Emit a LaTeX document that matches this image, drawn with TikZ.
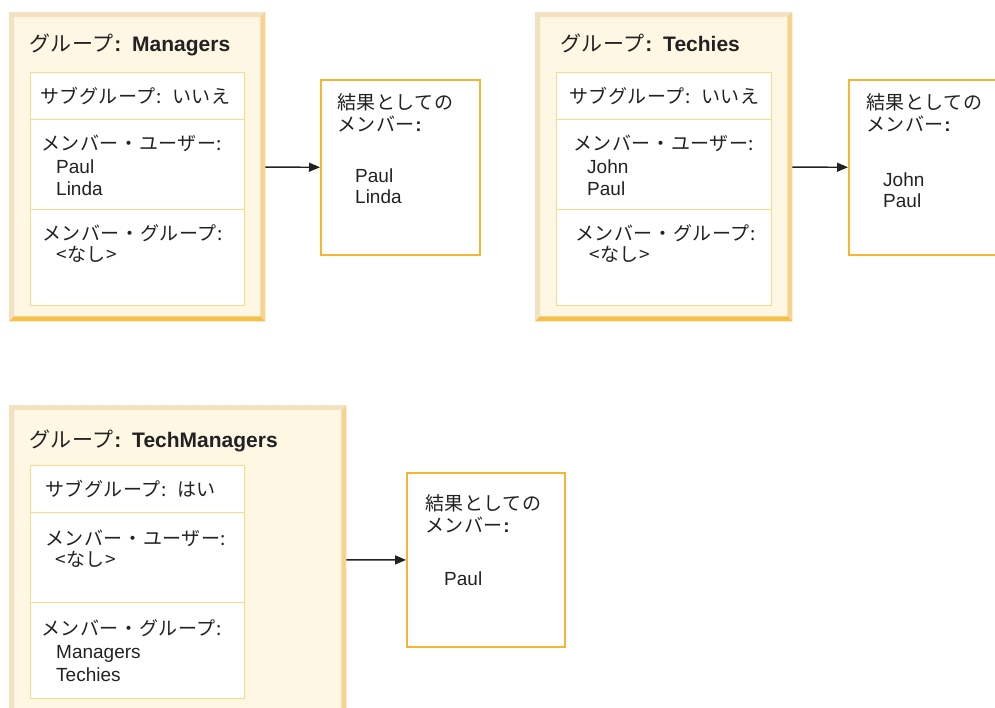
\documentclass[tikz,border=0pt]{standalone}
\usepackage{fontspec}
\setmainfont{Liberation Sans}
\newfontfamily\jp[LetterSpace=3]{Noto Sans CJK JP}
\usetikzlibrary{arrows.meta}
\definecolor{cream}{HTML}{FEF7E3}
\definecolor{bevellight}{HTML}{F3E2C2}
\definecolor{bevelright}{HTML}{F6D38E}
\definecolor{bevelbottom}{HTML}{F5C04C}
\definecolor{cellline}{HTML}{FBD98C}
\definecolor{resline}{HTML}{F7B535}
\definecolor{ink}{HTML}{222222}

\tikzset{
	grpbox/.style={fill=cream, inner sep=0pt, anchor=north west},
	cellbox/.style={draw=cellline, line width=1.4pt, fill=white, inner sep=0pt, anchor=north west},
	resbox/.style={draw=resline, line width=2pt, fill=white, inner sep=0pt, anchor=north west},
	txt/.style={anchor=base west, inner sep=0pt, text=ink, font=\fontsize{19}{22}\selectfont},
	ttl/.style={txt, font=\fontsize{21}{24}\selectfont},
	conn/.style={draw=ink, line width=1.4pt, -{Triangle[length=11pt,width=9pt]}}
}

% bevelled frame round a group box
\newcommand{\bevel}[1]{%
	\fill[bevellight] (#1.south west) -- (#1.north west) -- (#1.north east) -- ([shift={(-5,5)}]#1.north east) -- ([shift={(5,5)}]#1.north west) -- ([shift={(5,-5)}]#1.south west) -- cycle;
	\fill[bevelright] (#1.north east) -- (#1.south east) -- ([shift={(-5,-5)}]#1.south east) -- ([shift={(-5,5)}]#1.north east) -- cycle;
	\fill[bevelbottom] (#1.south west) -- (#1.south east) -- ([shift={(-5,-5)}]#1.south east) -- ([shift={(5,-5)}]#1.south west) -- cycle;}

\begin{document}
\begin{tikzpicture}[x=1pt,y=-1pt]
	\useasboundingbox (0,0) rectangle (995,707);
	\clip (0,0) rectangle (995,707);

	%group Managers
	\node[grpbox, minimum width=256, minimum height=309] (mgr) at (9,12) {};
	\bevel{mgr}
	\node[cellbox, minimum width=214, minimum height=47] (mgrsub) at (30,72) {};
	\node[cellbox, minimum width=214, minimum height=90] (mgrusr) at (30,119) {};
	\node[cellbox, minimum width=214, minimum height=96] (mgrgrp) at (30,209) {};
	\node[ttl] (mgrttl) at (29,51) {{\jp グループ}\textbf{:\hspace{3pt} Managers}};
	\node[txt] (mgrsubt) at (40,103) {\jp サブグループ:\hspace{4pt} いいえ};
	\node[txt] (mgrusrt) at (41,150) {\jp メンバー・ユーザー:};
	\node[txt] (mgrusr1) at (56,173) {Paul};
	\node[txt] (mgrusr2) at (56,195) {Linda};
	\node[txt] (mgrgrpt) at (42,240) {\jp メンバー・グループ:};
	\node[txt] (mgrgrp1) at (56,261) {\jp <なし>};

	%result Managers
	\node[resbox, minimum width=159, minimum height=175] (mgrres) at (320,79) {};
	\node[txt] (mgrres1) at (337,109) {\jp 結果としての};
	\node[txt] (mgrres2) at (337,131) {{\jp メンバー}\textbf{:}};
	\node[txt] (mgrres3) at (355,182) {Paul};
	\node[txt] (mgrres4) at (355,203) {Linda};
	\draw[conn] (mgr) -- (mgrres);

	%group Techies
	\node[grpbox, minimum width=257, minimum height=309] (tec) at (535,12) {};
	\bevel{tec}
	\node[cellbox, minimum width=215, minimum height=47] (tecsub) at (556,72) {};
	\node[cellbox, minimum width=215, minimum height=90] (tecusr) at (556,119) {};
	\node[cellbox, minimum width=215, minimum height=96] (tecgrp) at (556,209) {};
	\node[ttl] (tecttl) at (560,51) {{\jp グループ}\textbf{:\hspace{3pt} Techies}};
	\node[txt] (tecsubt) at (569,103) {\jp サブグループ:\hspace{4pt} いいえ};
	\node[txt] (tecusrt) at (573,150) {\jp メンバー・ユーザー:};
	\node[txt] (tecusr1) at (587,173) {John};
	\node[txt] (tecusr2) at (587,195) {Paul};
	\node[txt] (tecgrpt) at (575,240) {\jp メンバー・グループ:};
	\node[txt] (tecgrp1) at (589,261) {\jp <なし>};

	%result Techies
	\node[resbox, minimum width=159, minimum height=175] (tecres) at (848,79) {};
	\node[txt] (tecres1) at (866,109) {\jp 結果としての};
	\node[txt] (tecres2) at (866,131) {{\jp メンバー}\textbf{:}};
	\node[txt] (tecres3) at (883,186) {John};
	\node[txt] (tecres4) at (883,207) {Paul};
	\draw[conn] (tec) -- (tecres);

	%group TechManagers
	\node[grpbox, minimum width=337, minimum height=309] (tmg) at (9,405) {};
	\bevel{tmg}
	\node[cellbox, minimum width=214, minimum height=47] (tmgsub) at (30,465) {};
	\node[cellbox, minimum width=214, minimum height=90] (tmgusr) at (30,512) {};
	\node[cellbox, minimum width=214, minimum height=96] (tmggrp) at (30,602) {};
	\node[ttl] (tmgttl) at (29,447) {{\jp グループ}\textbf{:\hspace{3pt} TechManagers}};
	\node[txt] (tmgsubt) at (45,496) {\jp サブグループ:\hspace{4pt} はい};
	\node[txt] (tmgusrt) at (45,545) {\jp メンバー・ユーザー:};
	\node[txt] (tmgusr1) at (55,566) {\jp <なし>};
	\node[txt] (tmggrpt) at (41,635) {\jp メンバー・グループ:};
	\node[txt] (tmggrp1) at (56,658) {Managers};
	\node[txt] (tmggrp2) at (56,681) {Techies};

	%result TechManagers
	\node[resbox, minimum width=158, minimum height=174] (tmgres) at (406,472) {};
	\node[txt] (tmgres1) at (425,510) {\jp 結果としての};
	\node[txt] (tmgres2) at (425,532) {{\jp メンバー}\textbf{:}};
	\node[txt] (tmgres3) at (444,585) {Paul};
	\draw[conn] (tmg) -- (tmgres);
\end{tikzpicture}
\end{document}
